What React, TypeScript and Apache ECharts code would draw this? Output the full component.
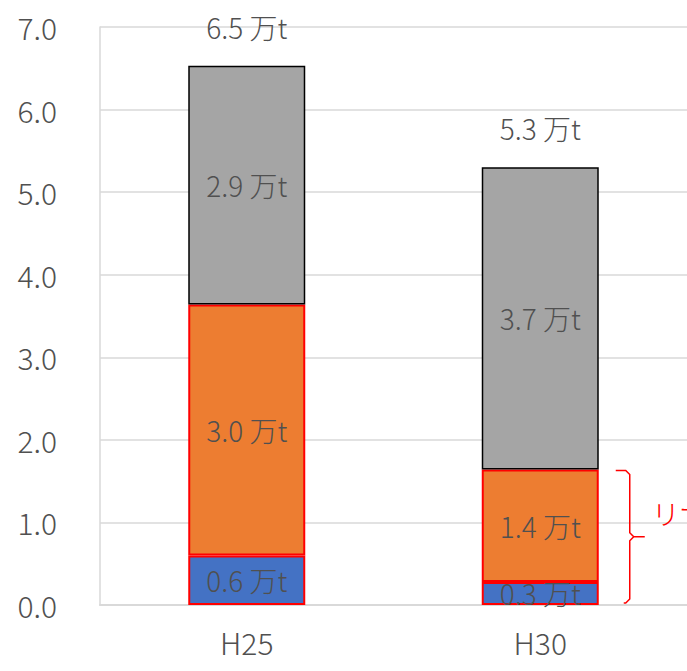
import { useEffect, useRef } from "react";
import * as echarts from "echarts";

// Fiscal years on the category axis
const categories = ["H25", "H30"];
// Stack segments, in 万t (bottom → top)
const blueValues = [0.6, 0.28];
const orangeValues = [3.04, 1.36];
const grayValues = [2.89, 3.66];
// Value axis range
const yMin = 0;
const yMax = 7;
const yStep = 1;
// Side note beside the H30 bracket
const bracketCategory = "H30";
const bracketNote = "リサイクル";

const FONT = "'Noto Sans CJK JP', 'Noto Sans', sans-serif";
const TEXT = "#505050";
const BAR_W = 117;

const totals = categories.map((_, i) => blueValues[i] + orangeValues[i] + grayValues[i]);
const fmt = (v: number) => `${v.toFixed(1)} 万t`;

export default function App() {
  const ref = useRef<HTMLDivElement>(null);

  useEffect(() => {
    if (!ref.current) return;
    const chart = echarts.init(ref.current, null, { renderer: "svg" });

    const segLabel = {
      show: true,
      position: "inside" as const,
      formatter: (p: any) => fmt(p.value),
      fontFamily: FONT,
      fontSize: 28,
      fontWeight: 300,
      color: TEXT,
    };

    chart.setOption({
      animation: false,
      grid: { left: 100, right: -1, top: 27, bottom: 66 },
      xAxis: {
        type: "category",
        data: categories,
        axisLine: { show: true, lineStyle: { color: "#d9d9d9", width: 2 } },
        axisTick: { show: false },
        axisLabel: { fontFamily: FONT, fontSize: 30, fontWeight: 300, color: TEXT, margin: 22 },
      },
      yAxis: {
        type: "value",
        min: yMin,
        max: yMax,
        interval: yStep,
        axisLine: { show: true, lineStyle: { color: "#d9d9d9", width: 1.5 } },
        axisTick: { show: false },
        splitLine: { lineStyle: { color: "#d9d9d9", width: 1.5 } },
        axisLabel: {
          fontFamily: FONT,
          fontSize: 30,
          fontWeight: 300,
          color: TEXT,
          margin: 43,
          formatter: (v: number) => v.toFixed(1),
        },
      },
      series: [
        {
          name: "下段",
          type: "bar",
          stack: "total",
          barWidth: BAR_W,
          data: blueValues,
          itemStyle: { color: "#4472c4", borderColor: "#ff0000", borderWidth: 2 },
          label: segLabel,
        },
        {
          name: "中段",
          type: "bar",
          stack: "total",
          barWidth: BAR_W,
          data: orangeValues,
          itemStyle: { color: "#ed7d31", borderColor: "#ff0000", borderWidth: 2 },
          label: segLabel,
        },
        {
          name: "上段",
          type: "bar",
          stack: "total",
          barWidth: BAR_W,
          data: grayValues,
          itemStyle: { color: "#a5a5a5", borderColor: "#000000", borderWidth: 1.5 },
          label: segLabel,
        },
        {
          name: "合計",
          type: "bar",
          barWidth: BAR_W,
          barGap: "-100%",
          data: totals,
          itemStyle: { color: "transparent" },
          z: 1,
          label: {
            show: true,
            position: "top",
            distance: 25,
            formatter: (p: any) => fmt(p.value),
            fontFamily: FONT,
            fontSize: 28,
            fontWeight: 300,
            color: TEXT,
          },
        },
      ],
    });

    // Brace spanning the two lower segments of the H30 bar
    const idx = categories.indexOf(bracketCategory);
    const topVal = blueValues[idx] + orangeValues[idx];
    const [cx, yTop] = chart.convertToPixel({ xAxisIndex: 0, yAxisIndex: 0 }, [bracketCategory, topVal]) as number[];
    const [, yBot] = chart.convertToPixel({ xAxisIndex: 0, yAxisIndex: 0 }, [bracketCategory, yMin]) as number[];
    const edge = cx + BAR_W / 2;
    const left = edge + 17;
    const vx = edge + 31;
    const tip = edge + 46;
    const t = yTop + 1;
    const b = yBot - 2;
    const mid = (t + b) / 2;
    const r = 4;

    chart.setOption({
      graphic: [
        {
          type: "polyline",
          shape: {
            points: [
              [left, t],
              [vx - r, t],
              [vx, t + r],
              [vx, mid - r],
              [vx + r, mid],
              [tip, mid],
              [vx + r, mid],
              [vx, mid + r],
              [vx, b - r],
              [vx - r, b],
              [left + 8, b],
            ],
          },
          style: { stroke: "#ff0000", lineWidth: 1.5, fill: "none" },
          z: 10,
        },
        {
          type: "text",
          x: tip + 7,
          y: mid - 24,
          style: {
            text: bracketNote,
            fontFamily: FONT,
            fontSize: 28,
            fontWeight: 300,
            fill: "#ff0000",
            textVerticalAlign: "middle",
          },
          z: 10,
        },
      ],
    });

    return () => chart.dispose();
  }, []);

  return (
    <div
      ref={ref}
      style={{ position: "absolute", left: 0, top: 0, width: 687, height: 671 }}
    />
  );
}
